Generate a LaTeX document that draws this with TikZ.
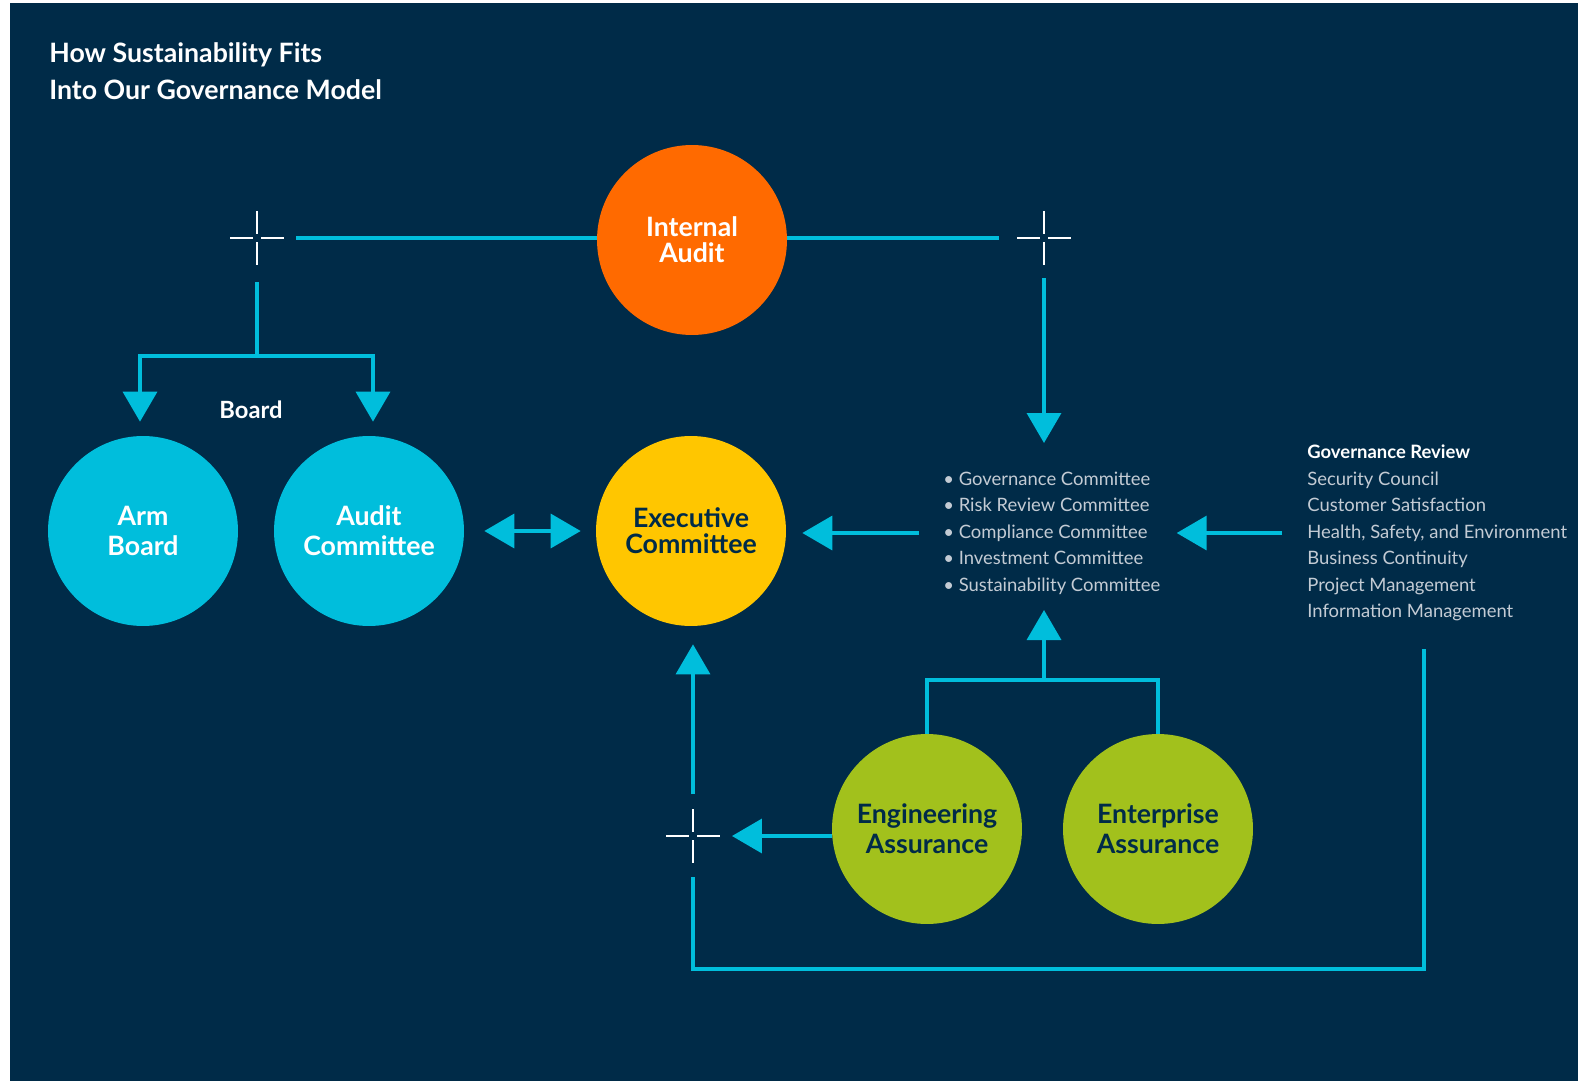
\documentclass[tikz,border=0pt]{standalone}
\usepackage{fontspec}
\setmainfont{Lato}
\usetikzlibrary{arrows.meta}
\definecolor{navy}{HTML}{002B48}
\definecolor{skyblue}{HTML}{00BEDC}
\definecolor{flame}{HTML}{FF6A00}
\definecolor{sun}{HTML}{FFC600}
\definecolor{lime}{HTML}{A2C11C}
\definecolor{mist}{HTML}{C3CBD4}
\tikzset{
  unit/.style={circle, minimum size=3.8cm, inner sep=0pt, align=center,
    font=\fontsize{15.2}{14.8}\selectfont\bfseries},
  wide/.style={font=\fontsize{15.2}{17.1}\selectfont\bfseries},
  link/.style={skyblue, line width=0.07cm},
  arrow/.style={link, -{Triangle[width=0.68cm,length=0.6cm]}},
  twoway/.style={link, {Triangle[width=0.68cm,length=0.6cm]}-{Triangle[width=0.68cm,length=0.6cm]}},
  listing/.style={anchor=west, inner sep=0pt, align=left, text=mist,
    font=\fontsize{10.5}{15.1}\selectfont},
  crossline/.style={white, line width=0.04cm},
  pics/crossmark/.style={code={
    \draw[crossline] (-27,0) -- (-4,0) (4,0) -- (27,0) (0,-27) -- (0,-4) (0,4) -- (0,27);}}
}
\begin{document}
\begin{tikzpicture}[x=0.02cm, y=-0.02cm]
  \useasboundingbox (0,0) rectangle (1578,1081);
  \fill[navy] (10,3) rectangle (1578,1081);
  % Title
  \node[anchor=north west, inner sep=0pt, align=left, text=white,
    font=\fontsize{15.2}{21.5}\selectfont\bfseries] (title) at (49,42)
    {How Sustainability Fits\\Into Our Governance Model};
  % Circles
  \node[unit, fill=flame, text=white] (audit) at (692,240) {Internal\\Audit};
  \node[unit, wide, fill=skyblue, text=white] (arm) at (143,531) {Arm\\Board};
  \node[unit, wide, fill=skyblue, text=white] (auditc) at (369,531) {Audit\\Committee};
  \node[unit, fill=sun, text=navy] (exec) at (691,531) {Executive\\Committee};
  \node[unit, wide, fill=lime, text=navy] (eng) at (927,829) {Engineering\\Assurance};
  \node[unit, wide, fill=lime, text=navy] (ent) at (1158,829) {Enterprise\\Assurance};
  \node[text=white, font=\fontsize{13.5}{15}\selectfont\bfseries] (boardlbl) at (251,410) {Board};
  % Committee lists
  \node[listing] (cmte) at (943,533)
    {\textbullet\ Governance Committee\\\textbullet\ Risk Review Committee\\
     \textbullet\ Compliance Committee\\\textbullet\ Investment Committee\\
     \textbullet\ Sustainability Committee};
  \node[listing] (gov) at (1307,533)
    {{\bfseries\color{white}Governance Review}\\Security Council\\Customer Satisfaction\\
     Health, Safety, and Environment\\Business Continuity\\Project Management\\
     Information Management};
  % Crosses
  \coordinate (xl) at (257,238);
  \coordinate (xr) at (1044,238);
  \coordinate (xb) at (693,836);
  \pic at (xl) {crossmark};
  \pic at (xr) {crossmark};
  \pic at (xb) {crossmark};
  % Internal audit line
  \coordinate (tl) at (296,238);
  \coordinate (tr) at (999,238);
  \draw[link] (tl) -- (tl -| audit.west);
  \draw[link] (tr -| audit.east) -- (tr);
  % Board branch
  \coordinate (lb) at (257,282);
  \coordinate (lj) at (257,356);
  \draw[arrow] (lb) -- (lj) -| ([xshift=-0.06cm,yshift=0.28cm]arm.north);
  \draw[arrow] (lj) -| ([xshift=0.08cm,yshift=0.28cm]auditc.north);
  \draw[twoway] ([xshift=0.4cm]auditc.east) -- ([xshift=-0.3cm]exec.west);
  % Down to the committees
  \coordinate (rb) at (1044,278);
  \coordinate (rt) at (1044,443);
  \draw[arrow] (rb) -- (rt);
  \draw[arrow] ([xshift=-0.48cm]cmte.west) -- ([xshift=0.32cm]exec.east |- cmte.west);
  \draw[arrow] ([xshift=-0.5cm]gov.west) -- ([xshift=0.32cm]cmte.east);
  % Review loop
  \coordinate (gb) at (1424,649);
  \coordinate (bb) at (693,877);
  \draw[link] (gb) -- ++(0,320) -| (bb);
  \coordinate (bu) at (693,794);
  \draw[arrow] (bu) -- ([yshift=-0.36cm]exec.south -| bu);
  \draw[arrow] (eng.west |- xb) -- ([xshift=0.78cm]xb);
  % Assurance branch
  \coordinate (gj) at (1044,680);
  \coordinate (gt) at (1044,610);
  \draw[link] (eng.north) |- (gj) -| (ent.north);
  \draw[arrow] (gj) -- (gt);
\end{tikzpicture}
\end{document}
